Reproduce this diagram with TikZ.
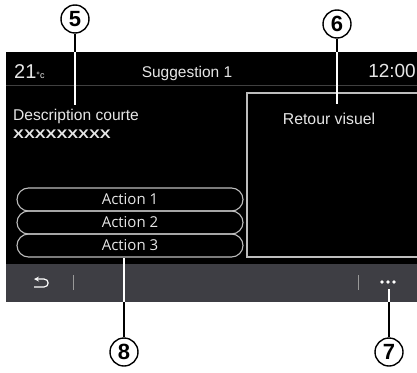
\documentclass[tikz,border=0pt]{standalone}
\usepackage{fontspec}
\setmainfont{Liberation Sans}
\newfontfamily\actionfont{Open Sans}
\usetikzlibrary{positioning,shapes.misc}

\definecolor{barcol}{HTML}{3E3E44}
\definecolor{rimcol}{HTML}{BDBDBD}
\definecolor{txtcol}{HTML}{E6E6E6}

\begin{document}
\begin{tikzpicture}[x=1pt,y=-1pt,
	callout/.style={circle,draw,line width=1.4pt,fill=white,minimum size=28pt,inner sep=0pt,font=\bfseries\fontsize{22}{22}\selectfont},
	action/.style={rounded rectangle,draw=rimcol,line width=1.1pt,text=txtcol,minimum width=226pt,minimum height=23pt,inner sep=0pt,font=\actionfont\fontsize{15}{15}\selectfont},
	label/.style={text=txtcol,inner sep=0pt},
	lead out/.style={black,line width=1.2pt},
	lead in/.style={white,line width=1.2pt}]

	\useasboundingbox (0,0) rectangle (417,372);

	% screen
	\fill[black] (6,52) rectangle (417,264);
	\fill[barcol] (6,264) rectangle (417,302);
	\draw[black!75!white,line width=0.8pt] (6,85.5) -- (417,85.5);
	\draw[rimcol,line width=1.1pt] (417,93) -- (247,93) -- (247,257) -- (417,257);
	\coordinate (top) at (0,52);
	\coordinate (bot) at (0,302);

	% header
	\node[label,anchor=base west] (temp) at (14,78) {\fontsize{20}{20}\selectfont 21{\fontsize{9}{9}\selectfont °c}};
	\node[label,anchor=base] (title) at (187,77) {\fontsize{15.5}{15.5}\selectfont Suggestion 1};
	\node[label,anchor=base east] (clock) at (416,77.5) {\fontsize{19}{19}\selectfont 12:00};

	% contents
	\node[label,anchor=base west] (desc) at (13,120) {\fontsize{15.6}{15.6}\selectfont Description courte};
	\node[label,anchor=base west] (xs) at (13,138.5) {\scalebox{1.3}[1]{\bfseries\fontsize{12.5}{12.5}\selectfont XXXXXXXXX}};
	\node[label,anchor=base] (vis) at (329,124) {\fontsize{15.8}{15.8}\selectfont Retour visuel};

	\node[action] (a1) at (130,199.5) {Action 1};
	\node[action] (a2) at (130,222.5) {Action 2};
	\node[action] (a3) at (130,245.5) {Action 3};

	% bottom bar
	\draw[white,line width=1.2pt,<-,>={stealth}] (34,279) -- (44,279) .. controls (49.5,279) and (49.5,287) .. (44,287) -- (34,287);
	\draw[gray!80!white,line width=0.9pt] (73,275) -- (73,290);
	\draw[gray!80!white,line width=0.9pt] (358,275) -- (358,290);
	\foreach \i in {382,388,394}
		\fill[white] (\i,282) circle (1.8);
	\coordinate (dots) at (389,289);

	% callouts
	\node[callout] (c5) at (75,19) {5};
	\node[callout] (c6) at (337,24) {6};
	\node[callout] (c8) at (124,352) {8};
	\node[callout] (c7) at (389,352) {7};

	\path[lead out]
		(c5) edge (c5 |- top)
		(c6) edge (c6 |- top)
		(c8) edge (c8 |- bot)
		(c7) edge (c7 |- bot)
	;
	\path[lead in]
		(c5 |- top) edge (75,105)
		(c6 |- top) edge (337,104)
		(c8 |- bot) edge (c8 |- a3.south)
		(c7 |- bot) edge (dots)
	;
\end{tikzpicture}
\end{document}
